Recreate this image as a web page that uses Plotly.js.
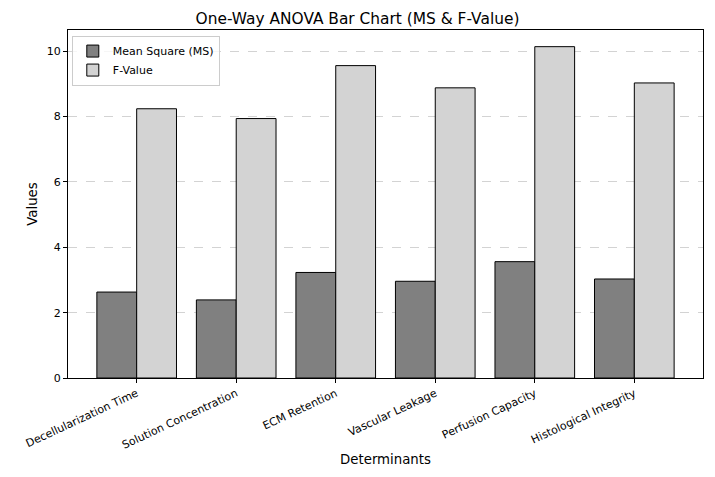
<!DOCTYPE html>
<html>
<head>
<meta charset="utf-8">
<script src="https://cdn.plot.ly/plotly-3.0.1.min.js"></script>
<style>html,body{margin:0;padding:0;background:#fff;}#chart{width:715px;height:477px;}</style>
</head>
<body>
<div id="chart"></div>
<script>
const categories = ["Decellularization Time", "Solution Concentration", "ECM Retention", "Vascular Leakage", "Perfusion Capacity", "Histological Integrity"];
const msValues = [2.63, 2.39, 3.23, 2.96, 3.56, 3.03];
const fValues = [8.24, 7.94, 9.56, 8.88, 10.14, 9.03];
const yTicks = [0, 2, 4, 6, 8, 10];

const traces = [
  {type: "bar", name: "Mean Square (MS)", x: categories, y: msValues,
   marker: {color: "#808080", line: {color: "#000", width: 1}}},
  {type: "bar", name: "F-Value", x: categories, y: fValues,
   marker: {color: "#d3d3d3", line: {color: "#000", width: 1}}}
];

const layout = {
  width: 715, height: 477,
  margin: {l: 68, r: 12, t: 30, b: 99},
  paper_bgcolor: "#fff", plot_bgcolor: "#fff",
  font: {family: "DejaVu Sans", size: 11, color: "#000"},
  title: {text: "One-Way ANOVA Bar Chart (MS & F-Value)", font: {size: 15.4, family: "DejaVu Sans"}, x: 0.5, xanchor: "center", y: 0.962, yanchor: "middle"},
  barmode: "group", bargap: 0.2, bargroupgap: 0,
  xaxis: {
    type: "category", range: [-0.69, 5.69], tickangle: -25,
    showline: true, linecolor: "#000", linewidth: 1, mirror: true,
    ticks: "outside", ticklen: 4, tickcolor: "#000", showgrid: false,
    tickfont: {size: 11},
    title: {text: "Determinants", font: {size: 13.3}, standoff: 3}
  },
  yaxis: {
    range: [0, 10.65], tickvals: yTicks, ticktext: yTicks.map(String),
    showline: true, linecolor: "#000", linewidth: 1, mirror: true,
    ticks: "outside", ticklen: 4, tickcolor: "#000",
    showgrid: true, gridcolor: "rgba(176,176,176,0.7)", griddash: "dash", gridwidth: 0.8,
    zeroline: false, tickfont: {size: 11},
    title: {text: "Values", font: {size: 13.3}, standoff: 6}
  },
  legend: {x: 0.006, y: 0.984, xanchor: "left", yanchor: "top", bgcolor: "rgba(255,255,255,0.8)",
    bordercolor: "#ccc", borderwidth: 1, font: {size: 11}, tracegroupgap: 0},
  showlegend: true
};

Plotly.newPlot("chart", traces, layout, {displayModeBar: false, staticPlot: true});
</script>
</body>
</html>
